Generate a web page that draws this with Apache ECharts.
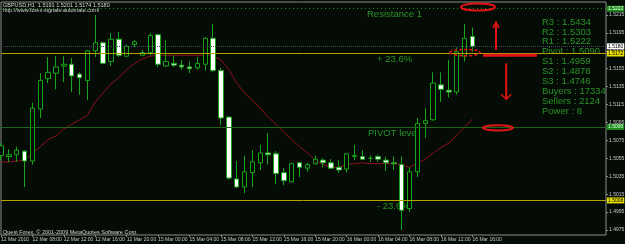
<!DOCTYPE html>
<html><head><meta charset="utf-8">
<script src="https://cdn.jsdelivr.net/npm/echarts@6/dist/echarts.min.js"></script>
<style>html,body{margin:0;padding:0;background:#050c05}#c{width:625px;height:244px}</style>
</head><body><div id="c"></div>
<script>
// ---- data (GBPUSD H1) ----
const days = [['12 Mar', 4, 23], ['15 Mar', 0, 23], ['16 Mar', 0, 16]];
const times = [];
days.forEach(([d, h0, h1]) => { for (let h = h0; h <= h1; h++) times.push(d + ' ' + String(h).padStart(2, '0') + ':00'); });

const tickLabels = ['12 Mar 2010','12 Mar 08:00','12 Mar 12:00','12 Mar 16:00','12 Mar 20:00','15 Mar 00:00','15 Mar 04:00','15 Mar 08:00','15 Mar 12:00','15 Mar 16:00','15 Mar 20:00','16 Mar 00:00','16 Mar 04:00','16 Mar 08:00','16 Mar 12:00','16 Mar 16:00'];
const priceTicks = [1.4975,1.4995,1.5015,1.5035,1.5055,1.5075,1.5095,1.5115,1.5135,1.5155,1.5175,1.5195,1.5215];

const opens  = [1.5058,1.5057,1.5059,1.5063,1.5052,1.5110,1.5144,1.5150,1.5158,1.5160,1.5149,1.5142,1.5175,1.5184,1.5163,1.5188,1.5169,1.5182,1.5170,1.5173,1.5193,1.5158,1.5161,1.5159,1.5157,1.5156,1.5160,1.5189,1.5153,1.5101,1.5032,1.5023,1.5039,1.5050,1.5061,1.5060,1.5039,1.5029,1.5050,1.5044,1.5049,1.5053,1.5050,1.5045,1.5043,1.5057,1.5057,1.5055,1.5057,1.5053,1.5050,1.5048,1.4999,1.5040,1.5094,1.5098,1.5137,1.5131,1.5129,1.5169,1.5191];
const closes = [1.5069,1.5059,1.5064,1.5052,1.5111,1.5142,1.5151,1.5157,1.5160,1.5147,1.5145,1.5175,1.5184,1.5161,1.5188,1.5170,1.5180,1.5185,1.5173,1.5192,1.5160,1.5163,1.5159,1.5157,1.5155,1.5161,1.5189,1.5153,1.5100,1.5033,1.5023,1.5040,1.5051,1.5061,1.5059,1.5038,1.5030,1.5049,1.5045,1.5048,1.5054,1.5050,1.5044,1.5042,1.5060,1.5058,1.5054,1.5055,1.5054,1.5050,1.5049,1.4997,1.5040,1.5094,1.5097,1.5139,1.5132,1.5129,1.5174,1.5189,1.5180];
const lows   = [1.5053,1.5051,1.5051,1.5023,1.5048,1.5100,1.5139,1.5132,1.5140,1.5129,1.5126,1.5120,1.5168,1.5160,1.5158,1.5168,1.5168,1.5179,1.5169,1.5170,1.5157,1.5157,1.5157,1.5154,1.5150,1.5154,1.5153,1.5151,1.5092,1.5031,1.5022,1.5016,1.5023,1.5042,1.5048,1.5026,1.5025,1.5028,1.5034,1.5040,1.5048,1.5045,1.5043,1.5039,1.5039,1.5053,1.5053,1.5051,1.5051,1.5041,1.5042,1.4975,1.4995,1.5034,1.5078,1.5097,1.5118,1.5123,1.5126,1.5163,1.5174];
const highs  = [1.5072,1.5065,1.5068,1.5064,1.5117,1.5150,1.5168,1.5169,1.5169,1.5167,1.5151,1.5176,1.5215,1.5185,1.5195,1.5196,1.5182,1.5187,1.5176,1.5195,1.5194,1.5187,1.5170,1.5165,1.5163,1.5168,1.5190,1.5205,1.5156,1.5102,1.5052,1.5058,1.5064,1.5070,1.5083,1.5063,1.5044,1.5050,1.5051,1.5050,1.5058,1.5055,1.5054,1.5053,1.5061,1.5070,1.5064,1.5058,1.5059,1.5057,1.5057,1.5057,1.5045,1.5100,1.5111,1.5151,1.5151,1.5165,1.5179,1.5205,1.5201];
const ma     = [1.5051,1.5051,1.5052,1.5053,1.5061,1.5068,1.5076,1.5080,1.5088,1.5093,1.5098,1.5103,1.5118,1.5128,1.5138,1.5145,1.5154,1.5161,1.5166,1.5169,1.5170,1.5170,1.5170,1.5170,1.5170,1.5170,1.5170,1.5169,1.5165,1.5154,1.5139,1.5128,1.5120,1.5111,1.5101,1.5093,1.5084,1.5076,1.5068,1.5061,1.5053,1.5048,1.5045,1.5045,1.5048,1.5049,1.5050,1.5049,1.5049,1.5049,1.5049,1.5048,1.5045,1.5050,1.5054,1.5061,1.5067,1.5072,1.5081,1.5090,1.5099];

const resistance1 = 1.5222, bid = 1.5180, fibUp = 1.5172, pivot = 1.5090, fibDown = 1.5008;
const panelLines = ['R3 : 1.5434','R2 : 1.5303','R1 : 1.5222','Pivot : 1.5090','S1 : 1.4959','S2 : 1.4878','S3 : 1.4746','Buyers : 17334','Sellers : 2124','Power : 8'];
const header = 'GBPUSD,H1  1.5191 1.5201 1.5174 1.5180';

// ---- chart ----
const BG = '#050c05', GREEN = '#16a516', TXT = '#2a922a', RED = '#e01414';
const FONT = '"Liberation Sans", Arial, sans-serif';
const xData = times.concat(Array(17).fill(''));
const candleData = opens.map((o, i) => [o, closes[i], lows[i], highs[i]]);

function lvlLabel(bg, fg) {
  return { show: true, position: 'end', distance: 1, fontSize: 5, fontFamily: FONT, color: fg,
           backgroundColor: bg, padding: [1, 1, 0, 1], formatter: p => Number(p.value).toFixed(4) };
}

const chart = echarts.init(document.getElementById('c'), null, { renderer: 'canvas' });
chart.setOption({
  backgroundColor: BG,
  animation: false,
  grid: { left: 1, right: 19, top: 2, bottom: 9, show: true, borderColor: '#8c8c8c', borderWidth: 1,
          containLabel: false, outerBoundsMode: 'none' },
  xAxis: {
    type: 'category', data: xData, boundaryGap: false,
    axisLine: { show: false },
    axisTick: { show: true, interval: i => i % 4 === 0 && i <= 60, length: 2, lineStyle: { color: '#8c8c8c' } },
    axisLabel: { interval: i => i % 4 === 0 && i <= 60, formatter: (v, i) => tickLabels[i / 4] || '',
                 align: 'left', fontSize: 5, fontFamily: FONT, color: '#c8c8c8', margin: 2 },
    splitLine: { show: false }
  },
  yAxis: {
    type: 'value', position: 'right', min: 1.49694, max: 1.52295,
    axisLine: { show: false }, splitLine: { show: false },
    axisTick: { show: true, customValues: priceTicks, length: 2, lineStyle: { color: '#8c8c8c' } },
    axisLabel: { customValues: priceTicks, formatter: v => v.toFixed(4), fontSize: 5, fontFamily: FONT, color: '#c8c8c8', margin: 3 }
  },
  series: [
    {
      type: 'line', data: ma, symbol: 'none', z: 1,
      lineStyle: { color: '#8e1020', width: 1 },
      markLine: {
        silent: true, symbol: ['none', 'none'], animation: false, precision: 4,
        data: [
          { yAxis: resistance1, lineStyle: { color: '#1f8f1f', type: [1, 3], width: 1 }, label: lvlLabel('#1f8f1f', '#e0ffe0') },
          { yAxis: bid, lineStyle: { color: '#3e4c5e', type: [1, 1], width: 1 }, label: lvlLabel('#ffffff', '#000000') },
          { yAxis: fibUp, lineStyle: { color: '#b4a400', type: 'solid', width: 1 }, label: lvlLabel('#e8e000', '#000000') },
          { yAxis: pivot, lineStyle: { color: '#1d641d', type: 'solid', width: 1 }, label: lvlLabel('#1f8f1f', '#e0ffe0') },
          { yAxis: fibDown, lineStyle: { color: '#b4a400', type: 'solid', width: 1 }, label: lvlLabel('#e8e000', '#000000') }
        ]
      }
    },
    {
      type: 'candlestick', data: candleData, barWidth: 5, z: 3,
      itemStyle: { color: BG, color0: '#ffffff', borderColor: GREEN, borderColor0: GREEN, borderColorDoji: GREEN, borderWidth: 1 }
    }
  ]
});

// ---- annotations anchored in data space ----
function px(i, p) {
  const a = chart.convertToPixel({ gridIndex: 0 }, [0, p]);
  const b = chart.convertToPixel({ gridIndex: 0 }, [1, p]);
  return [a[0] + i * (b[0] - a[0]), a[1]];
}
const g = [];
const t = (text, x, y, size, fill, z) => g.push({ type: 'text', x, y, z: z || 1, silent: true,
  style: { text, fill, font: size + 'px ' + FONT, textVerticalAlign: 'middle' } });

t(header, 3, 5, 5.5, '#d6d6d6', 5);
t('http://www.forex-signals-automate.com/', 3, 10.5, 5.5, '#d6d6d6', 5);
t('Quest Forex, \u00a9 2001-2009 MetaQuotes Software Corp.', 3, 232, 5.5, '#d6d6d6', 5);

const yR1 = px(0, resistance1)[1], yUp = px(0, fibUp)[1], yPv = px(0, pivot)[1], yDn = px(0, fibDown)[1];
t('Resistance 1', 367, yR1 + 6, 9.5, TXT);
t('+ 23.6%', 377, yUp + 6, 9.5, TXT);
t('PIVOT level', 368, yPv + 6, 9.5, TXT);
t('- 23.6%', 377, yDn + 5.5, 9.5, TXT);
panelLines.forEach((s, k) => t(s, 542, 22 + k * 9.9, 9.5, TXT));

const ell = (i, p, rx, ry, dash, lw) => { const c = px(i, p);
  g.push({ type: 'ellipse', z: 10, silent: true, shape: { cx: c[0], cy: c[1], rx, ry },
           style: { fill: 'none', stroke: RED, lineWidth: lw, lineDash: dash } }); };
ell(60.7, 1.5224, 17, 3.5, null, 2);
ell(59.05, 1.5173, 15, 3.2, [3, 2], 1.5);
ell(63.25, 1.5089, 15, 2.6, null, 2);

const seg = (pts, lw) => g.push({ type: 'polyline', z: 10, silent: true, shape: { points: pts },
  style: { fill: 'none', stroke: RED, lineWidth: lw } });
const hA = px(61.35, 1.5170), hB = px(68.2, 1.5170);
seg([hA, hB], 3);
const uA = px(63.0, 1.5176), uB = px(63.0, 1.5207);
seg([uA, uB], 2);
seg([[uB[0] - 3, uB[1] + 6], uB, [uB[0] + 3, uB[1] + 6]], 1.5);
const dA = px(64.3, 1.5161), dB = px(64.3, 1.5121);
seg([dA, dB], 2);
seg([[dB[0] - 5, dB[1] - 5], dB, [dB[0] + 5, dB[1] - 5]], 1.5);

chart.setOption({ graphic: g });
</script></body></html>
